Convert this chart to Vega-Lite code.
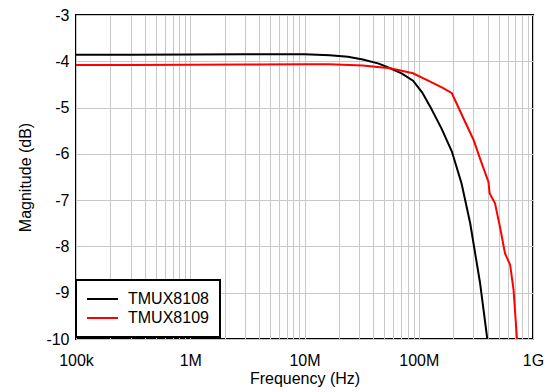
{
  "$schema": "https://vega.github.io/schema/vega-lite/v6.json",
  "width": 457,
  "height": 324,
  "autosize": "none",
  "padding": {"left": 76, "top": 15, "right": 16, "bottom": 53},
  "background": "white",
  "config": {
    "font": "Liberation Sans",
    "view": {"stroke": "black", "strokeWidth": 2},
    "axis": {
      "labelFont": "Liberation Sans",
      "titleFont": "Liberation Sans",
      "labelFontSize": 16,
      "titleFontSize": 16,
      "titleFontWeight": "normal",
      "labelColor": "black",
      "titleColor": "black",
      "ticks": false,
      "domain": false,
      "gridColor": "#c8c8c8",
      "gridWidth": 1,
      "gridOpacity": 1
    },
    "legend": {
      "labelFont": "Liberation Sans",
      "labelFontSize": 16,
      "labelColor": "black"
    }
  },
  "data": {
    "values": [
      {"f": 100000, "mag": -3.86, "series": "TMUX8108"},
      {"f": 300000, "mag": -3.86, "series": "TMUX8108"},
      {"f": 1000000, "mag": -3.855, "series": "TMUX8108"},
      {"f": 3000000, "mag": -3.85, "series": "TMUX8108"},
      {"f": 10000000, "mag": -3.85, "series": "TMUX8108"},
      {"f": 16600000, "mag": -3.87, "series": "TMUX8108"},
      {"f": 24000000, "mag": -3.9, "series": "TMUX8108"},
      {"f": 32400000, "mag": -3.96, "series": "TMUX8108"},
      {"f": 44700000, "mag": -4.05, "series": "TMUX8108"},
      {"f": 56200000, "mag": -4.15, "series": "TMUX8108"},
      {"f": 70800000, "mag": -4.26, "series": "TMUX8108"},
      {"f": 89100000, "mag": -4.42, "series": "TMUX8108"},
      {"f": 107000000, "mag": -4.67, "series": "TMUX8108"},
      {"f": 126000000, "mag": -4.98, "series": "TMUX8108"},
      {"f": 158000000, "mag": -5.45, "series": "TMUX8108"},
      {"f": 195000000, "mag": -5.95, "series": "TMUX8108"},
      {"f": 237000000, "mag": -6.64, "series": "TMUX8108"},
      {"f": 282000000, "mag": -7.5, "series": "TMUX8108"},
      {"f": 344000000, "mag": -8.79, "series": "TMUX8108"},
      {"f": 398000000, "mag": -10.0, "series": "TMUX8108"},
      {"f": 100000, "mag": -4.08, "series": "TMUX8109"},
      {"f": 300000, "mag": -4.08, "series": "TMUX8109"},
      {"f": 1000000, "mag": -4.075, "series": "TMUX8109"},
      {"f": 3000000, "mag": -4.07, "series": "TMUX8109"},
      {"f": 10000000, "mag": -4.065, "series": "TMUX8109"},
      {"f": 16600000, "mag": -4.065, "series": "TMUX8109"},
      {"f": 32400000, "mag": -4.09, "series": "TMUX8109"},
      {"f": 56200000, "mag": -4.15, "series": "TMUX8109"},
      {"f": 89100000, "mag": -4.26, "series": "TMUX8109"},
      {"f": 126000000, "mag": -4.44, "series": "TMUX8109"},
      {"f": 164000000, "mag": -4.58, "series": "TMUX8109"},
      {"f": 195000000, "mag": -4.69, "series": "TMUX8109"},
      {"f": 245000000, "mag": -5.22, "series": "TMUX8109"},
      {"f": 302000000, "mag": -5.7, "series": "TMUX8109"},
      {"f": 347000000, "mag": -6.13, "series": "TMUX8109"},
      {"f": 407000000, "mag": -6.6, "series": "TMUX8109"},
      {"f": 417000000, "mag": -6.85, "series": "TMUX8109"},
      {"f": 465000000, "mag": -7.07, "series": "TMUX8109"},
      {"f": 513000000, "mag": -7.57, "series": "TMUX8109"},
      {"f": 569000000, "mag": -8.15, "series": "TMUX8109"},
      {"f": 631000000, "mag": -8.4, "series": "TMUX8109"},
      {"f": 676000000, "mag": -8.94, "series": "TMUX8109"},
      {"f": 724000000, "mag": -10.0, "series": "TMUX8109"}
    ]
  },
  "mark": {"type": "line", "strokeWidth": 2, "clip": true},
  "encoding": {
    "x": {
      "field": "f",
      "type": "quantitative",
      "scale": {"type": "log", "domain": [100000, 1000000000], "nice": false},
      "axis": {
        "title": "Frequency (Hz)",
        "values": [100000, 200000, 300000, 400000, 500000, 600000, 700000, 800000, 900000,
                   1000000, 2000000, 3000000, 4000000, 5000000, 6000000, 7000000, 8000000, 9000000,
                   10000000, 20000000, 30000000, 40000000, 50000000, 60000000, 70000000, 80000000, 90000000,
                   100000000, 200000000, 300000000, 400000000, 500000000, 600000000, 700000000, 800000000, 900000000,
                   1000000000],
        "labelExpr": "datum.value == 100000 ? '100k' : datum.value == 1000000 ? '1M' : datum.value == 10000000 ? '10M' : datum.value == 100000000 ? '100M' : datum.value == 1000000000 ? '1G' : ''",
        "labelPadding": 13,
        "titlePadding": 2,
        "labelFlush": false,
        "labelOverlap": false
      }
    },
    "y": {
      "field": "mag",
      "type": "quantitative",
      "scale": {"domain": [-10, -3], "nice": false, "zero": false},
      "axis": {
        "title": "Magnitude (dB)",
        "values": [-10, -9, -8, -7, -6, -5, -4, -3],
        "labelExpr": "'' + datum.value",
        "labelPadding": 7,
        "titlePadding": 12
      }
    },
    "color": {
      "field": "series",
      "type": "nominal",
      "scale": {"domain": ["TMUX8108", "TMUX8109"], "range": ["#000000", "#ff0000"]},
      "legend": {
        "title": null,
        "orient": "none",
        "legendX": 0,
        "legendY": 265,
        "symbolType": "M-1.6,0H4.6",
        "symbolSize": 100,
        "symbolStrokeWidth": 2,
        "labelOffset": 25,
        "rowPadding": 3,
        "padding": 11,
        "strokeColor": "black",
        "fillColor": "white",
        "encode": {"legend": {"update": {"strokeWidth": {"value": 2}}}}
      }
    }
  }
}
